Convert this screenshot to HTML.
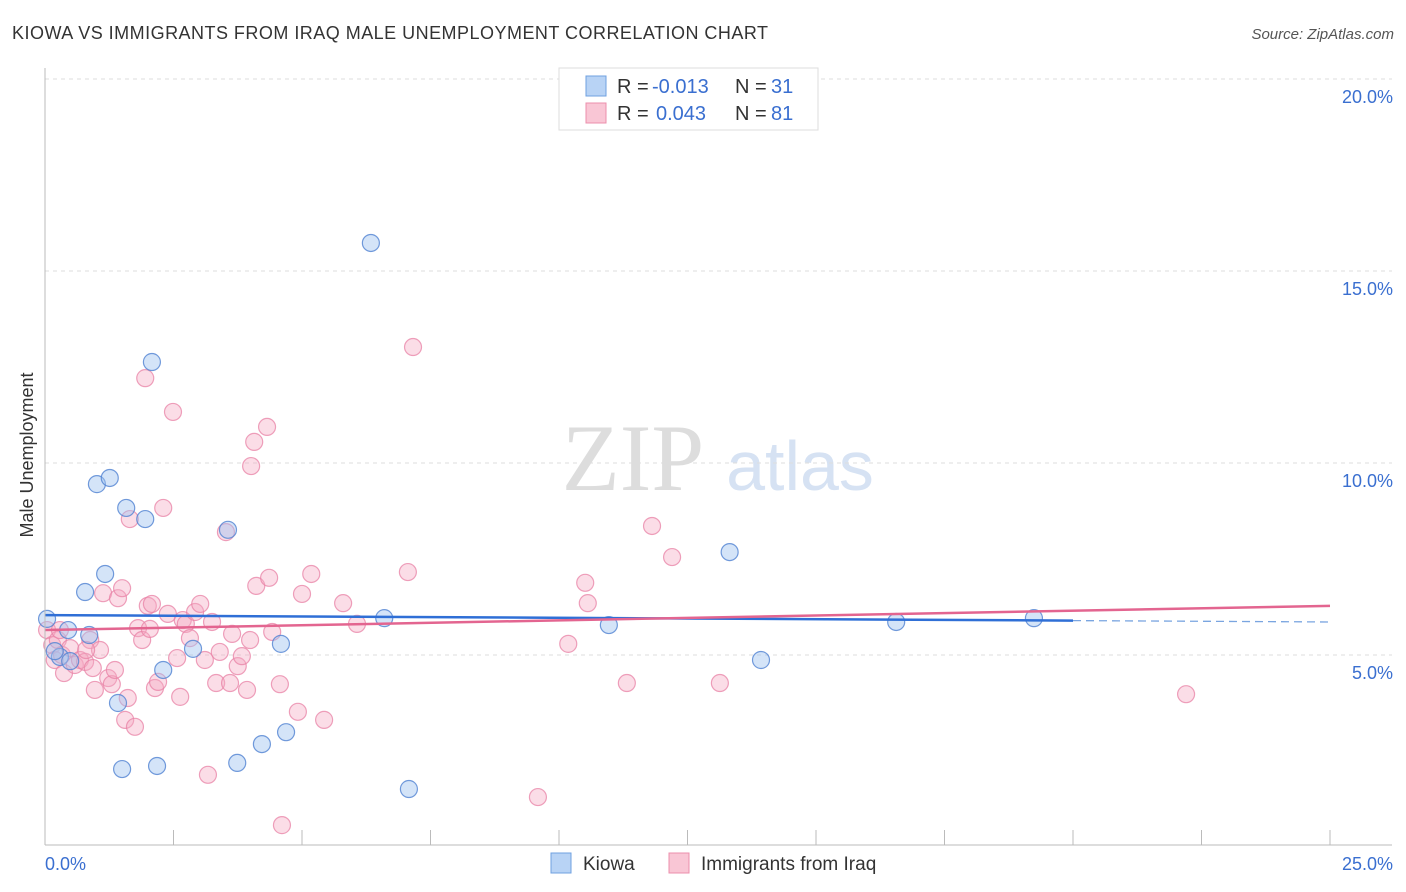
<!DOCTYPE html>
<html><head><meta charset="utf-8"><style>
body{margin:0;background:#fff;font-family:"Liberation Sans",sans-serif;}
svg{display:block}
</style></head><body>
<svg width="1406" height="892" id="c">
<text x="12" y="39" font-size="18" fill="#333" textLength="756">KIOWA VS IMMIGRANTS FROM IRAQ MALE UNEMPLOYMENT CORRELATION CHART</text>
<text x="1394" y="39" font-size="15" fill="#555" font-style="italic" text-anchor="end">Source: ZipAtlas.com</text>
<text x="33" y="455" font-size="18" fill="#333" transform="rotate(-90 33 455)" text-anchor="middle">Male Unemployment</text>
<text x="633" y="490" font-size="95" fill="#ddd" font-family="Liberation Serif" text-anchor="middle">ZIP</text>
<text x="800" y="490" font-size="70" fill="#d6e2f3" text-anchor="middle">atlas</text>
<g id="grid"></g><g id="pts"></g><g id="lines"></g>
<line x1="45" y1="68" x2="45" y2="845" stroke="#bbb"/>
<line x1="45" y1="845" x2="1392" y2="845" stroke="#bbb"/>
<text x="45" y="870" font-size="18" fill="#3a6fd0">0.0%</text>
<text x="1393" y="870" font-size="18" fill="#3a6fd0" text-anchor="end">25.0%</text>
<g font-size="20">
<rect x="559" y="68" width="259" height="62" fill="#fff" stroke="#ddd"/>
<rect x="586" y="76" width="20" height="20" fill="#b8d3f5" stroke="#6fa0e0"/>
<rect x="586" y="103" width="20" height="20" fill="#f9c6d5" stroke="#ec8fac"/>
<text x="617" y="93" fill="#333">R =</text><text x="652" y="93" fill="#3a6fd0">-0.013</text>
<text x="735" y="93" fill="#333">N =</text><text x="771" y="93" fill="#3a6fd0">31</text>
<text x="617" y="120" fill="#333">R =</text><text x="656" y="120" fill="#3a6fd0">0.043</text>
<text x="735" y="120" fill="#333">N =</text><text x="771" y="120" fill="#3a6fd0">81</text>
</g>
<g>
<rect x="551" y="853" width="20" height="20" fill="#b8d3f5" stroke="#6fa0e0"/>
<text x="583" y="870" font-size="19" fill="#333">Kiowa</text>
<rect x="669" y="853" width="20" height="20" fill="#f9c6d5" stroke="#ec8fac"/>
<text x="701" y="870" font-size="19" fill="#333">Immigrants from Iraq</text>
</g>
</svg>
<script>
const yTicks=[5,10,15,20];
const xTicks=[0,2.5,5,7.5,10,12.5,15,17.5,20,22.5,25];
const kiowaX=[0.04,0.45,0.29,1.17,0.78,0.86,1.01,1.26,1.58,1.95,2.08,3.56,2.88,2.30,1.42,1.50,2.18,3.74,4.22,4.69,4.59,6.34,6.60,7.08,10.97,13.32,13.93,16.56,19.24,0.19,0.49];
const kiowaY=[5.94,5.65,4.95,7.11,6.64,5.52,9.45,9.61,8.83,8.54,12.63,8.26,5.16,4.61,3.75,2.03,2.11,2.19,2.68,2.99,5.29,15.73,5.96,1.51,5.78,7.68,4.87,5.86,5.96,5.10,4.84];
const iraqPx=[[47,630],[52,645],[55,660],[58,640],[62,655],[64,673],[70,648],[75,665],[80,660],[85,662],[90,640],[93,668],[95,690],[100,650],[103,593],[108,678],[112,684],[115,670],[118,598],[122,588],[125,720],[128,698],[130,519],[135,727],[138,628],[142,640],[145,378],[148,606],[152,604],[155,688],[158,682],[163,508],[168,614],[173,412],[177,658],[180,697],[183,620],[186,624],[190,638],[195,612],[200,604],[205,660],[208,775],[212,622],[216,683],[220,652],[226,532],[230,683],[232,634],[238,666],[242,656],[247,690],[251,466],[254,442],[256,586],[267,427],[269,578],[272,632],[280,684],[282,825],[298,712],[302,594],[311,574],[324,720],[343,603],[357,624],[408,572],[413,347],[538,797],[568,644],[585,583],[588,603],[627,683],[652,526],[672,557],[720,683],[1186,694],[86,650],[60,630],[150,629],[250,640]];
const iraqX=iraqPx.map(p=>+((p[0]-45)/1285*25).toFixed(2));
const iraqY=iraqPx.map(p=>+((847-p[1])/38.4).toFixed(2));
const kiowaTrend=[6.04,5.86];
const iraqTrend=[5.65,6.28];
const X=v=>45+v/25*1285, Y=v=>847-v*38.4;
const NS='http://www.w3.org/2000/svg';
function mk(t,a,p){const e=document.createElementNS(NS,t);for(const k in a)e.setAttribute(k,a[k]);p.appendChild(e);return e;}
const g=document.getElementById('grid');
yTicks.forEach(v=>{
 const l=mk('line',{x1:45,x2:1392,y1:Y(v),y2:Y(v),stroke:'#ddd','stroke-dasharray':'4,4'},g);
 
 
 const t=mk('text',{x:1393,y:Y(v)+24,'font-size':18,fill:'#3a6fd0','text-anchor':'end'},g);
 t.textContent=v.toFixed(1)+'%';
 
 
});
xTicks.forEach(v=>{
 const l=mk('line',{x1:X(v),x2:X(v),y1:830,y2:845,stroke:'#bbb'},g);
 
 
});
const P=document.getElementById('pts');
iraqX.forEach((x,i)=>{
 const c=mk('circle',{cx:X(x),cy:Y(iraqY[i]),r:8.5,fill:'rgba(246,170,195,0.4)',stroke:'rgba(232,130,165,0.75)','stroke-width':1.2},P);
 
 
});
kiowaX.forEach((x,i)=>{
 const c=mk('circle',{cx:X(x),cy:Y(kiowaY[i]),r:8.5,fill:'rgba(160,195,240,0.45)',stroke:'rgba(80,130,210,0.8)','stroke-width':1.2},P);
 
 
});
const L=document.getElementById('lines');
const kEnd=20, ky=x=>kiowaTrend[0]+(kiowaTrend[1]-kiowaTrend[0])*x/25;
let e=mk('line',{x1:X(0),y1:Y(ky(0)),x2:X(kEnd),y2:Y(ky(kEnd)),stroke:'#2f6fd6','stroke-width':2.5},L);


e=mk('line',{x1:X(kEnd),y1:Y(ky(kEnd)),x2:X(25),y2:Y(ky(25)),stroke:'#7aa5e0','stroke-width':1.3,'stroke-dasharray':'8,5'},L);


e=mk('line',{x1:X(0),y1:Y(iraqTrend[0]),x2:X(25),y2:Y(iraqTrend[1]),stroke:'#e36590','stroke-width':2.5},L);


</script>
</body></html>
